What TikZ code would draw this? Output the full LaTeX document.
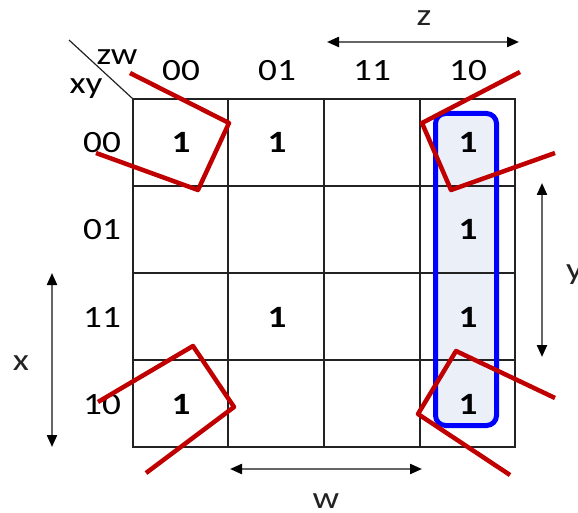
\documentclass[tikz,border=0pt]{standalone}
\usepackage{fontspec}
\setmainfont{Carlito}[FakeStretch=1.2]
\usetikzlibrary{arrows.meta}
\definecolor{loopred}{HTML}{C00000}
\definecolor{groupblue}{HTML}{0000FF}
\definecolor{groupfill}{HTML}{EBF0F8}
\definecolor{gridline}{HTML}{222222}
\definecolor{arrowgray}{HTML}{666666}
\definecolor{lbltext}{HTML}{222222}
\begin{document}
\begin{tikzpicture}[x=1pt,y=-1pt,
  lbl/.style={font=\fontsize{31}{36}\selectfont, anchor=base, inner sep=0pt, text=black},
  varlbl/.style={font=\fontsize{31}{36}\selectfont, anchor=base, inner sep=0pt, text=lbltext},
  one/.style={font=\fontsize{31}{36}\selectfont\bfseries, anchor=base, inner sep=0pt, text=black},
  gridl/.style={draw=gridline, line width=1.3pt},
  loop/.style={draw=loopred, line width=4.5pt, line join=round},
  dimarrow/.style={draw=arrowgray, line width=2.2pt,
     {Triangle[length=12pt,width=10pt,color=black]}-{Triangle[length=12pt,width=10pt,color=black]}}
]
\useasboundingbox (0,0) rectangle (578,513);

% blue group fill
\fill[groupfill, rounded corners=10pt] (435.5,113.5) rectangle (496.5,425.5);

% grid
\draw[gridl] (133,99) rectangle (515,447);
\foreach \x in {228,324,420} \draw[gridl] (\x,99) -- (\x,447);
\foreach \y in {186,273,360} \draw[gridl] (133,\y) -- (515,\y);
\draw[gridline, line width=1.2pt] (69,40) -- (133,99);

% blue group border
\draw[groupblue, line width=5pt, rounded corners=10pt] (435.5,113.5) rectangle (496.5,425.5);

% corner labels
\node[lbl] (zw) at (117,65) {zw};
\node[lbl] (xy) at (86,94) {xy};

% column labels
\node[lbl] (c00) at (181,81) {00};
\node[lbl] (c01) at (277,81) {01};
\node[lbl] (c11) at (372,81) {11};
\node[lbl] (c10) at (468,81) {10};

% row labels
\node[lbl] (r00) at (102,153) {00};
\node[lbl] (r01) at (102,240) {01};
\node[lbl] (r11) at (102,327) {11};
\node[lbl] (r10) at (102,414) {10};

% ones
\node[one] (m0) at (181,153) {1};
\node[one] (m1) at (277,153) {1};
\node[one] (m2) at (468,153) {1};
\node[one] (m6) at (468,240) {1};
\node[one] (m13) at (277,327) {1};
\node[one] (m14) at (468,327) {1};
\node[one] (m8) at (181,414) {1};
\node[one] (m10) at (468,414) {1};

% variable arrows
\coordinate (zL) at (327,42);
\coordinate (zR) at (519,42);
\draw[dimarrow] (zL) -- (zR);
\node[varlbl] (zlab) at (424,26) {z};

\coordinate (yT) at (542,183);
\coordinate (yB) at (542,357);
\draw[dimarrow] (yT) -- (yB);
\node[varlbl, anchor=base west] (ylab) at (566,279) {y};

\coordinate (xT) at (52,273);
\coordinate (xB) at (52,447);
\draw[dimarrow] (xT) -- (xB);
\node[varlbl] (xlab) at (21,370) {x};

\coordinate (wL) at (230,469);
\coordinate (wR) at (422,469);
\draw[dimarrow] (wL) -- (wR);
\node[varlbl] (wlab) at (326,508) {w};

% red corner loops
\draw[loop] (130,73) -- (229,123) -- (198,190) -- (96,153);
\draw[loop] (520,72) -- (422,123) -- (451,190) -- (555,153);
\draw[loop] (98,402) -- (193,346) -- (234,407) -- (146,473);
\draw[loop] (555,398) -- (456,351) -- (418,414) -- (510,475);
\end{tikzpicture}
\end{document}
